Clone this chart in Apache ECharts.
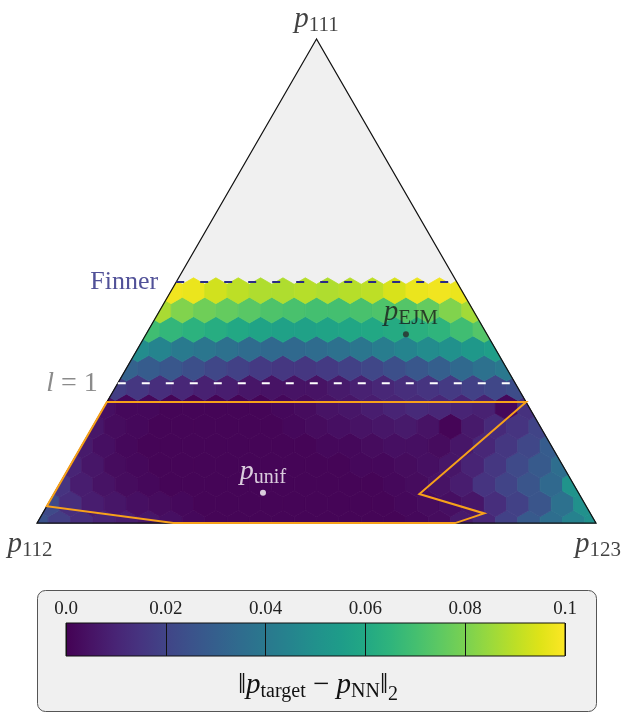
<!DOCTYPE html>
<html>
<head>
<meta charset="utf-8">
<script src="https://cdn.jsdelivr.net/npm/echarts@6/dist/echarts.min.js"></script>
<style>
  html, body { margin: 0; padding: 0; background: #ffffff; }
  #chart { width: 622px; height: 713px; }
</style>
</head>
<body>
<div id="chart"></div>
<script>
const SQ3 = Math.sqrt(3);
const GRID_N = 25;            // hex columns across the base of the simplex
const SERIF = "'Liberation Serif', 'DejaVu Serif', serif";

// Mean error ||p_target - p_NN||_2 per hex cell.
// One array per hex row (row 0 sits on the base); each array starts at the
// first column of that row that reaches into the simplex.
const row0  = [0.025, 0.018, 0.013, 0.010, 0.008, 0.006, 0.004, 0.002, 0.001, 0.001, 0.001, 0.001, 0.001, 0.001, 0.001, 0.001, 0.001, 0.002, 0.003, 0.007, 0.011, 0.019, 0.028, 0.036, 0.044, 0.050];
const row1  = [0.022, 0.013, 0.008, 0.006, 0.004, 0.003, 0.002, 0.001, 0.001, 0.001, 0.001, 0.001, 0.001, 0.001, 0.001, 0.001, 0.002, 0.003, 0.004, 0.006, 0.013, 0.019, 0.026, 0.037, 0.050];
const row2  = [0.015, 0.008, 0.005, 0.003, 0.002, 0.001, 0.001, 0.001, 0.001, 0.001, 0.001, 0.001, 0.001, 0.001, 0.001, 0.002, 0.003, 0.005, 0.008, 0.015, 0.020, 0.026, 0.034, 0.051];
const row3  = [0.010, 0.006, 0.003, 0.002, 0.001, 0.001, 0.001, 0.001, 0.001, 0.001, 0.001, 0.001, 0.001, 0.002, 0.002, 0.003, 0.004, 0.006, 0.010, 0.016, 0.022, 0.028, 0.036];
const row4  = [0.007, 0.004, 0.002, 0.001, 0.001, 0.001, 0.001, 0.001, 0.001, 0.001, 0.001, 0.002, 0.002, 0.003, 0.004, 0.004, 0.003, 0.006, 0.011, 0.016, 0.021, 0.029];
const row5  = [0.006, 0.003, 0.002, 0.001, 0.001, 0.001, 0.001, 0.001, 0.001, 0.002, 0.003, 0.004, 0.005, 0.006, 0.007, 0.005, 0.001, 0.007, 0.012, 0.015, 0.020];
const row6  = [0.004, 0.002, 0.002, 0.001, 0.001, 0.001, 0.001, 0.001, 0.002, 0.003, 0.005, 0.006, 0.008, 0.010, 0.012, 0.011, 0.010, 0.009, 0.002, 0.014];
const row7  = [0.018, 0.016, 0.013, 0.011, 0.009, 0.008, 0.006, 0.005, 0.005, 0.005, 0.007, 0.009, 0.011, 0.013, 0.015, 0.017, 0.019, 0.021, 0.023];
const row8  = [0.031, 0.029, 0.027, 0.024, 0.021, 0.019, 0.017, 0.016, 0.016, 0.017, 0.019, 0.021, 0.024, 0.027, 0.030, 0.034, 0.037, 0.040];
const row9  = [0.048, 0.045, 0.041, 0.039, 0.037, 0.035, 0.034, 0.034, 0.035, 0.037, 0.039, 0.042, 0.045, 0.048, 0.050, 0.053, 0.056];
const row10 = [0.069, 0.066, 0.064, 0.062, 0.060, 0.058, 0.057, 0.057, 0.058, 0.059, 0.060, 0.061, 0.063, 0.065, 0.069, 0.073];
const row11 = [0.087, 0.081, 0.078, 0.076, 0.074, 0.072, 0.071, 0.070, 0.070, 0.071, 0.072, 0.073, 0.076, 0.081, 0.086];
const row12 = [0.098, 0.097, 0.093, 0.090, 0.088, 0.088, 0.089, 0.088, 0.089, 0.090, 0.094, 0.097, 0.098, 0.097];
const hexRows = [row0, row1, row2, row3, row4, row5, row6, row7, row8, row9, row10, row11, row12];

// Ternary positions given as [p111 share, p123 share]
const finnerLevel = 0.498;     // Finner bound on p111
const l1Level = 0.289;         // l = 1 level
const pEJM = [0.390, 0.465];
const pUnif = [0.0625, 0.373];
const nnRegion = [[0.25, 0], [0.25, 0.75], [0.06, 0.654], [0.02, 0.79], [0, 0.748], [0, 0.244], [0.035, 0]];
const vertices = [[1, 0], [0, 0], [0, 1]];   // p111, p112, p123

// Colour scale
const cbarMin = 0, cbarMax = 0.1;
const cbarTicks = ['0.0', '0.02', '0.04', '0.06', '0.08', '0.1'];
const viridis = ['#440154', '#471365', '#482475', '#463480', '#414487', '#3b528b', '#355f8d',
  '#2f6c8e', '#2a788e', '#25848e', '#21918c', '#1e9c89', '#22a884', '#2fb47c', '#44bf70',
  '#5ec962', '#7ad151', '#9bd93c', '#bddf26', '#dfe318', '#fde725'];

// ternary -> cartesian (base from 0 to 1, apex at sqrt(3)/2)
function toXY(t, r) { return [r + t / 2, t * SQ3 / 2]; }

const hexData = [];
hexRows.forEach(function (vals, k) {
  const first = Math.floor(k / 2);
  vals.forEach(function (v, j) { hexData.push([first + j, k, v]); });
});

function trianglePx(api) {
  return vertices.map(function (v) { return api.coord(toXY(v[0], v[1])); });
}

// Sutherland–Hodgman clipping of a polygon against a convex polygon
function clipPoly(subject, clip) {
  const area = (clip[1][0] - clip[0][0]) * (clip[2][1] - clip[0][1]) -
               (clip[1][1] - clip[0][1]) * (clip[2][0] - clip[0][0]);
  const sgn = area > 0 ? 1 : -1;
  let out = subject;
  for (let e = 0; e < clip.length && out.length; e++) {
    const A = clip[e], B = clip[(e + 1) % clip.length];
    const side = function (p) { return sgn * ((B[0] - A[0]) * (p[1] - A[1]) - (B[1] - A[1]) * (p[0] - A[0])); };
    const inp = out; out = [];
    for (let i = 0; i < inp.length; i++) {
      const P = inp[i], Q = inp[(i + 1) % inp.length];
      const sp = side(P), sq = side(Q);
      if (sp >= 0) out.push(P);
      if ((sp >= 0) !== (sq >= 0)) {
        const f = sp / (sp - sq);
        out.push([P[0] + f * (Q[0] - P[0]), P[1] + f * (Q[1] - P[1])]);
      }
    }
  }
  return out;
}

function renderHex(params, api) {
  const col = api.value(0), row = api.value(1);
  const cx = (col + (row % 2) * 0.5) / GRID_N;
  const cy = row * SQ3 / (2 * GRID_N);
  const r = 1 / (GRID_N * SQ3);
  const pts = [];
  for (let a = 0; a < 6; a++) {
    const ang = Math.PI / 2 + a * Math.PI / 3;
    pts.push(api.coord([cx + r * Math.cos(ang), cy + r * Math.sin(ang)]));
  }
  const poly = clipPoly(pts, trianglePx(api));
  if (poly.length < 3) return;
  const c = api.visual('color');
  return { type: 'polygon', shape: { points: poly }, style: { fill: c, stroke: c, lineWidth: 0.8, lineJoin: 'round' } };
}

const richMath = function (color, big, small, drop) {
  return {
    p: { fontFamily: SERIF, fontStyle: 'italic', fontWeight: 'normal', fontSize: big, lineHeight: big + 4, color: color },
    r: { fontFamily: SERIF, fontWeight: 'normal', fontSize: big, lineHeight: big + 4, color: color },
    s: { fontFamily: SERIF, fontWeight: 'normal', fontSize: small, lineHeight: small + 2, padding: [drop, 0, 0, 0], color: color }
  };
};

const chart = echarts.init(document.getElementById('chart'), null, { renderer: 'canvas' });

chart.setOption({
  animation: false,
  backgroundColor: '#ffffff',
  graphic: [{
    type: 'rect', z: -10, silent: true,
    shape: { x: 37.5, y: 590.5, width: 559, height: 121, r: 8 },
    style: { fill: '#f0f0f0', stroke: '#555555', lineWidth: 1 }
  }],
  title: {
    text: '{r|‖}{p|p}{s|target}{r| − }{p|p}{s|NN}{r|‖}{s2|2}',
    left: 313, top: 664, textAlign: 'center',
    textStyle: {
      fontWeight: 'normal',
      rich: Object.assign(richMath('#111111', 29, 20, 13), {
        s2: { fontFamily: SERIF, fontWeight: 'normal', fontSize: 20, lineHeight: 22, padding: [19, 0, 0, 0], color: '#111111' }
      })
    }
  },
  grid: [
    { left: 37, top: 39, width: 559, height: 559 * SQ3 / 2 },
    { left: 66, top: 623, width: 499, height: 33 }
  ],
  xAxis: [
    { type: 'value', gridIndex: 0, min: 0, max: 1, show: false },
    {
      type: 'value', gridIndex: 1, min: cbarMin, max: cbarMax, interval: 0.02, position: 'top', z: 10,
      axisLine: { show: false },
      axisTick: { show: true, length: 6, lineStyle: { color: '#111111', width: 1 } },
      axisLabel: {
        show: true, margin: 4, fontFamily: SERIF, fontSize: 19, color: '#222222',
        formatter: function (v, i) { return cbarTicks[i]; }
      },
      splitLine: { show: true, lineStyle: { color: '#111111', width: 1 } }
    }
  ],
  yAxis: [
    { type: 'value', gridIndex: 0, min: 0, max: SQ3 / 2, show: false },
    { type: 'value', gridIndex: 1, min: 0, max: 1, show: false }
  ],
  visualMap: {
    type: 'continuous', show: false, seriesIndex: 1, dimension: 2,
    min: cbarMin, max: cbarMax, inRange: { color: viridis }
  },
  series: [
    // simplex background
    {
      type: 'custom', z: 1, silent: true, data: [0],
      renderItem: function (params, api) {
        return { type: 'polygon', shape: { points: trianglePx(api) }, style: { fill: '#f0f0f0' } };
      }
    },
    // hex-binned error
    { type: 'custom', z: 2, silent: true, data: hexData, renderItem: renderHex },
    // simplex outline
    {
      type: 'custom', z: 3, silent: true, data: [0],
      renderItem: function (params, api) {
        return { type: 'polygon', shape: { points: trianglePx(api) }, style: { fill: 'none', stroke: '#111111', lineWidth: 1.2 } };
      }
    },
    // region covered by the network
    {
      type: 'custom', z: 4, silent: true, data: [0],
      renderItem: function (params, api) {
        const pts = nnRegion.map(function (q) { return api.coord(toXY(q[0], q[1])); });
        return { type: 'polygon', shape: { points: pts }, style: { fill: 'none', stroke: '#f7a11a', lineWidth: 2 } };
      }
    },
    // Finner bound
    {
      type: 'line', z: 4, silent: true, symbol: 'none',
      data: [toXY(finnerLevel, 0), toXY(finnerLevel, 1 - finnerLevel)],
      lineStyle: { color: '#2b2b85', width: 2, type: [8, 16] }
    },
    // l = 1 level
    {
      type: 'line', z: 4, silent: true, symbol: 'none',
      data: [toXY(l1Level, 0), toXY(l1Level, 1 - l1Level)],
      lineStyle: { color: '#ffffff', width: 2, type: [8, 16] }
    },
    // line labels
    {
      type: 'scatter', z: 5, silent: true, symbolSize: 0,
      data: [
        { value: toXY(finnerLevel, 0), label: { show: true, position: 'left', distance: 18, formatter: 'Finner', fontFamily: SERIF, fontSize: 26, color: '#26267e' } },
        { value: toXY(l1Level, 0), label: { show: true, position: 'left', distance: 20, formatter: '{p|l}{r| = 1}', rich: richMath('#6e6e6e', 28, 18, 0) } }
      ]
    },
    // marked distributions
    {
      type: 'scatter', z: 6, silent: true, symbolSize: 6,
      data: [
        { value: toXY(pEJM[0], pEJM[1]), itemStyle: { color: '#2a2a2a' },
          label: { show: true, position: 'top', distance: 2, offset: [5, 0], formatter: '{p|p}{s|EJM}', rich: richMath('#1a1a1a', 29, 21, 12) } },
        { value: toXY(pUnif[0], pUnif[1]), itemStyle: { color: '#ffffff' },
          label: { show: true, position: 'top', distance: 2, formatter: '{p|p}{s|unif}', rich: richMath('#ffffff', 28, 20, 12) } }
      ]
    },
    // vertex names
    {
      type: 'scatter', z: 6, silent: true, symbolSize: 0,
      data: [
        { value: toXY(vertices[0][0], vertices[0][1]), label: { show: true, position: 'top', distance: 3, formatter: '{p|p}{s|111}', rich: richMath('#111111', 29, 21, 12) } },
        { value: toXY(vertices[1][0], vertices[1][1]), label: { show: true, position: 'bottom', distance: 5, offset: [-7, 0], formatter: '{p|p}{s|112}', rich: richMath('#111111', 29, 21, 12) } },
        { value: toXY(vertices[2][0], vertices[2][1]), label: { show: true, position: 'bottom', distance: 5, offset: [2, 0], formatter: '{p|p}{s|123}', rich: richMath('#111111', 29, 21, 12) } }
      ]
    },
    // colour bar
    {
      type: 'custom', xAxisIndex: 1, yAxisIndex: 1, z: 2, silent: true,
      data: [[cbarMin, cbarMax]],
      renderItem: function (params, api) {
        const a = api.coord([api.value(0), 0]), b = api.coord([api.value(1), 1]);
        const stops = viridis.map(function (c, i) { return { offset: i / (viridis.length - 1), color: c }; });
        return {
          type: 'rect',
          shape: { x: a[0], y: b[1], width: b[0] - a[0], height: a[1] - b[1] },
          style: { fill: new echarts.graphic.LinearGradient(0, 0, 1, 0, stops), stroke: '#111111', lineWidth: 1 }
        };
      }
    }
  ]
});
</script>
</body>
</html>
